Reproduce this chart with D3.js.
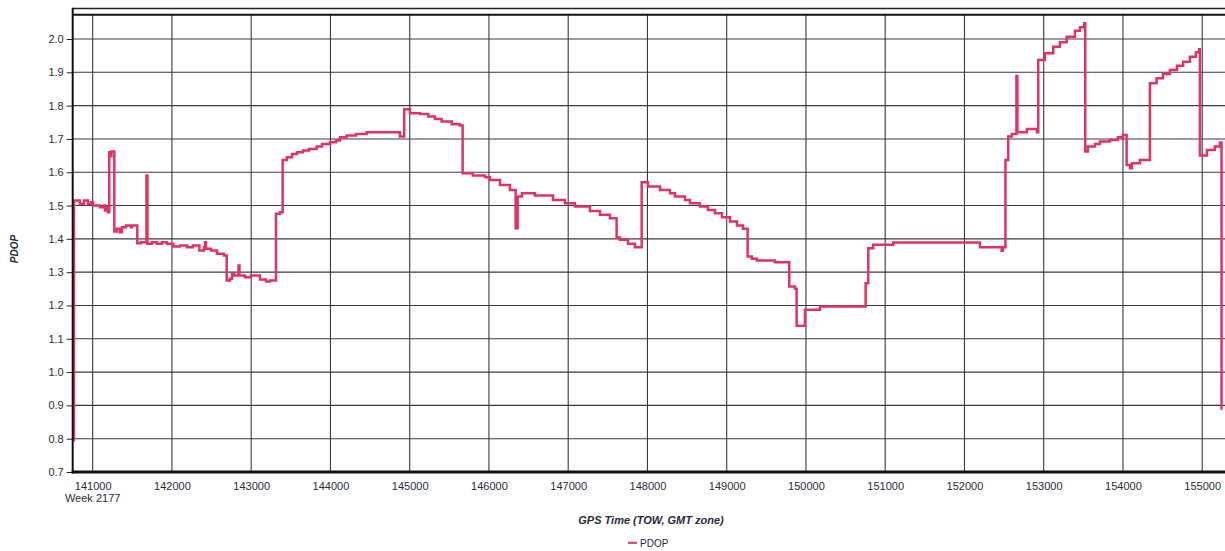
<!DOCTYPE html>
<html>
<head>
<meta charset="utf-8">
<script src="https://cdn.jsdelivr.net/npm/d3@7"></script>
<style>
  html, body { margin: 0; padding: 0; background: #fff; }
  svg { display: block; font-family: "Liberation Sans", Arial, sans-serif; }
</style>
</head>
<body>
<svg id="chart" width="1225" height="551"></svg>
<script>
// ---- Data ----
const tow = [
  140758, 140764, 140840, 140890, 140941, 140979, 141004, 141092, 141143, 141155,
  141174, 141193, 141209, 141218, 141237, 141273, 141307, 141325, 141344, 141370,
  141420, 141483, 141496, 141563, 141609, 141679, 141691, 141748, 141811, 141874,
  141937, 142017, 142101, 142190, 142265, 142347, 142404, 142417, 142430, 142493,
  142568, 142657, 142691, 142732, 142758, 142783, 142840, 142852, 142922, 142997,
  143111, 143187, 143237, 143313, 143363, 143397, 143451, 143515, 143578, 143653,
  143729, 143826, 143893, 143994, 144070, 144120, 144205, 144322, 144457, 144814,
  144877, 144931, 145003, 145130, 145234, 145319, 145403, 145530, 145634, 145668,
  145798, 145950, 146013, 146139, 146265, 146337, 146362, 146416, 146580, 146808,
  146959, 147085, 147274, 147401, 147527, 147611, 147653, 147754, 147842, 147927,
  148006, 148158, 148284, 148347, 148473, 148536, 148662, 148763, 148852, 148940,
  149041, 149129, 149205, 149264, 149318, 149381, 149608, 149789, 149861, 149882,
  149987, 150176, 150753, 150786, 150849, 151101, 152195, 152469, 152485, 152517,
  152552, 152599, 152656, 152668, 152788, 152914, 152931, 153015, 153120, 153204,
  153289, 153394, 153457, 153511, 153524, 153558, 153646, 153709, 153835, 153936,
  153999, 154046, 154088, 154113, 154214, 154340, 154424, 154504, 154592, 154681,
  154760, 154845, 154920, 154962, 154971, 155059, 155160, 155223, 155244, 155252
];
const pdop = [
  0.795, 1.515, 1.505, 1.515, 1.505, 1.510, 1.500, 1.495, 1.500, 1.485,
  1.495, 1.480, 1.660, 1.648, 1.662, 1.422, 1.430, 1.430, 1.420, 1.435,
  1.440, 1.435, 1.440, 1.387, 1.390, 1.590, 1.385, 1.390, 1.385, 1.390,
  1.385, 1.377, 1.380, 1.375, 1.380, 1.365, 1.375, 1.390, 1.370, 1.365,
  1.355, 1.350, 1.275, 1.280, 1.295, 1.290, 1.320, 1.290, 1.285, 1.290,
  1.278, 1.272, 1.275, 1.475, 1.480, 1.637, 1.645, 1.655, 1.660, 1.665,
  1.670, 1.677, 1.685, 1.690, 1.695, 1.705, 1.710, 1.715, 1.720, 1.720,
  1.707, 1.789, 1.777, 1.775, 1.767, 1.760, 1.752, 1.744, 1.740, 1.597,
  1.590, 1.585, 1.577, 1.562, 1.547, 1.432, 1.527, 1.537, 1.530, 1.517,
  1.507, 1.497, 1.484, 1.472, 1.462, 1.404, 1.397, 1.385, 1.375, 1.570,
  1.557, 1.547, 1.537, 1.527, 1.517, 1.507, 1.497, 1.487, 1.477, 1.465,
  1.452, 1.440, 1.430, 1.347, 1.340, 1.335, 1.330, 1.257, 1.250, 1.139,
  1.187, 1.197, 1.267, 1.372, 1.382, 1.389, 1.375, 1.364, 1.375, 1.637,
  1.707, 1.715, 1.889, 1.720, 1.730, 1.720, 1.937, 1.957, 1.977, 1.990,
  2.007, 2.025, 2.035, 2.047, 1.662, 1.677, 1.685, 1.692, 1.697, 1.705,
  1.712, 1.622, 1.612, 1.627, 1.637, 1.867, 1.882, 1.895, 1.907, 1.920,
  1.932, 1.947, 1.960, 1.969, 1.650, 1.667, 1.677, 1.689, 0.890, 0.890
];
const xTicks = [141000, 142000, 143000, 144000, 145000, 146000, 147000, 148000,
                149000, 150000, 151000, 152000, 153000, 154000, 155000];
const yTicks = [0.7, 0.8, 0.9, 1.0, 1.1, 1.2, 1.3, 1.4, 1.5, 1.6, 1.7, 1.8, 1.9, 2.0];
const weekLabel = "Week 2177";
const seriesName = "PDOP";
const xTitle = "GPS Time (TOW, GMT zone)";
const yTitle = "PDOP";

// ---- Layout ----
const W = 1225, H = 551;
const mLeft = 72.7, mRight = 1226, mTop = 14.7, mBottom = 472;
const lineColor = "#de3464";

const svg = d3.select("#chart");
const x = d3.scaleLinear().domain([140748, 155300]).range([mLeft, mRight]);
const y = d3.scaleLinear().domain([0.7, 2.073]).range([mBottom, mTop]);

// outer frame top line
svg.append("line").attr("x1", mLeft).attr("x2", W).attr("y1", 8.5).attr("y2", 8.5)
  .attr("stroke", "#222").attr("stroke-width", 1.5);

// grid
const grid = svg.append("g");
grid.selectAll(".vg").data(xTicks).join("line")
  .attr("x1", d => x(d)).attr("x2", d => x(d))
  .attr("y1", mTop).attr("y2", mBottom)
  .attr("stroke", "#3a3a3a").attr("stroke-width", 1.1);
grid.selectAll(".hg").data(yTicks.filter(d => d > 0.7)).join("line")
  .attr("x1", mLeft).attr("x2", W)
  .attr("y1", d => y(d)).attr("y2", d => y(d))
  .attr("stroke", "#3a3a3a").attr("stroke-width", 1.1);

// y axis
const yAxis = d3.axisLeft(y).tickValues(yTicks).tickFormat(d3.format(".1f"))
  .tickSize(6).tickPadding(3);
const gy = svg.append("g").attr("transform", `translate(${mLeft},0)`).call(yAxis);
gy.select(".domain").remove();
gy.selectAll(".tick line").attr("stroke", "#222");
gy.selectAll(".tick text").attr("fill", "#2a2a3a")
  .style("font-size", "11px").style("font-family", "'Liberation Sans', Arial, sans-serif");

// x axis
const xAxis = d3.axisBottom(x).tickValues(xTicks).tickFormat(d3.format("d"))
  .tickSize(0).tickPadding(10);
const gx = svg.append("g").attr("transform", `translate(0,${mBottom})`).call(xAxis);
gx.select(".domain").remove();
gx.selectAll(".tick text").attr("fill", "#2a2a3a")
  .style("font-size", "11px").style("font-family", "'Liberation Sans', Arial, sans-serif");

svg.append("text").attr("x", x(xTicks[0])).attr("y", 502)
  .attr("text-anchor", "middle").attr("fill", "#2a2a3a")
  .style("font-size", "11px").text(weekLabel);

// data line
svg.append("defs").append("clipPath").attr("id", "clip")
  .append("rect").attr("x", mLeft).attr("y", mTop).attr("width", W - mLeft).attr("height", mBottom - mTop);
const line = d3.line().x((d, i) => x(tow[i])).y((d, i) => y(pdop[i])).curve(d3.curveStepAfter);
svg.append("path").datum(pdop).attr("d", line)
  .attr("clip-path", "url(#clip)")
  .attr("fill", "none").attr("stroke", lineColor).attr("stroke-width", 2.5)
  .attr("stroke-linejoin", "miter");

// frame: top plot line, left axis, bottom axis
svg.append("line").attr("x1", mLeft).attr("x2", W).attr("y1", mTop).attr("y2", mTop)
  .attr("stroke", "#111").attr("stroke-width", 2);
svg.append("line").attr("x1", mLeft).attr("x2", mLeft).attr("y1", 7.8).attr("y2", mBottom + 1.5)
  .attr("stroke", "#111").attr("stroke-width", 2);
svg.append("line").attr("x1", mLeft - 1).attr("x2", W).attr("y1", mBottom).attr("y2", mBottom)
  .attr("stroke", "#111").attr("stroke-width", 3);

// titles
svg.append("text").attr("x", 651).attr("y", 523.5).attr("text-anchor", "middle")
  .attr("fill", "#2a2a3a").style("font-size", "11px").style("font-weight", "bold")
  .style("font-style", "italic").text(xTitle);
svg.append("text").attr("transform", "translate(18,249) rotate(-90)")
  .attr("text-anchor", "middle").attr("fill", "#2a2a3a").style("font-size", "10px")
  .style("font-weight", "bold").style("font-style", "italic").text(yTitle);

// legend
svg.append("line").attr("x1", 628).attr("x2", 637).attr("y1", 542.8).attr("y2", 542.8)
  .attr("stroke", lineColor).attr("stroke-width", 2);
svg.append("text").attr("x", 640).attr("y", 546.5).attr("fill", "#2a2a3a")
  .style("font-size", "10px").text(seriesName);
</script>
</body>
</html>
